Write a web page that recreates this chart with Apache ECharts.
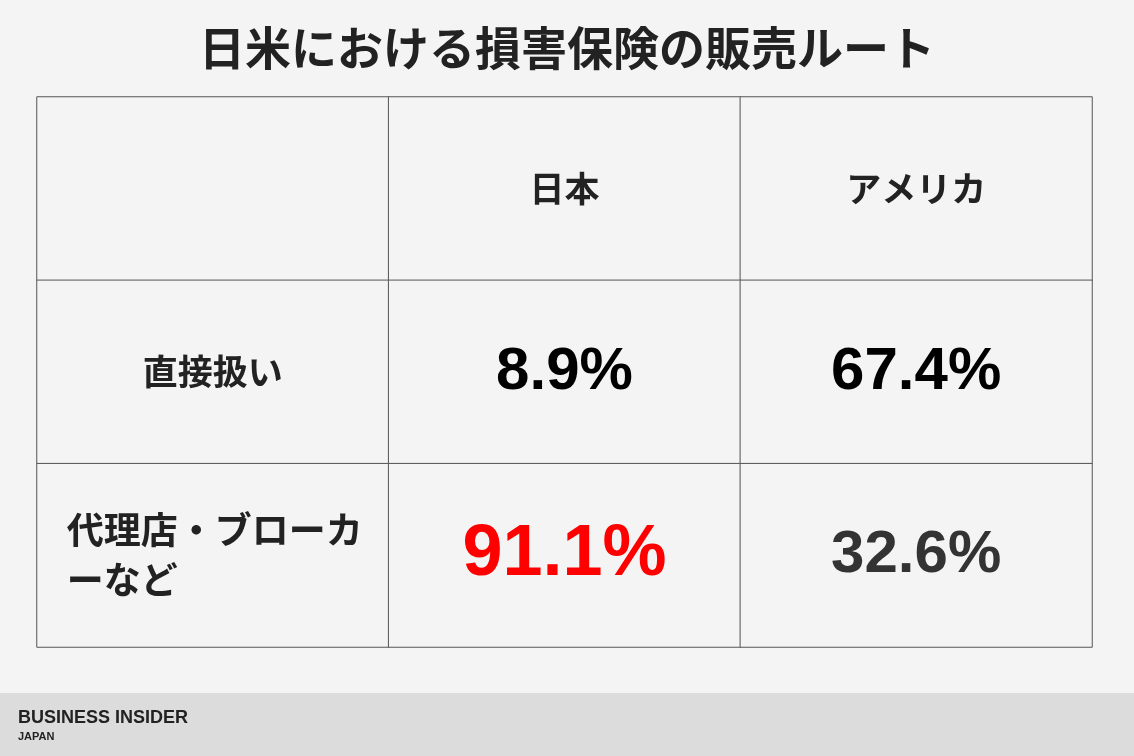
<!DOCTYPE html>
<html>
<head>
<meta charset="utf-8">
<script src="https://cdn.jsdelivr.net/npm/echarts@6/dist/echarts.min.js"></script>
<style>
  html, body { margin: 0; padding: 0; background: #f4f4f4; }
  #chart { width: 1134px; height: 756px; }
</style>
</head>
<body>
<div id="chart"></div>
<script>
// 表のデータ
var titleText = '日米における損害保険の販売ルート';
var columns = ['', '日本', 'アメリカ'];
var rows = ['', '直接扱い', '代理店・ブローカ\nーなど'];
var japanValues = [8.9, 91.1];
var usaValues = [67.4, 32.6];

var FONT = '"Noto Sans CJK JP", "Noto Sans", sans-serif';
var NUMFONT = 'Arial, "Liberation Sans", sans-serif';
var myChart = echarts.init(document.getElementById('chart'));

function cell(x, y, text, label) {
    return {
        value: [x, y, 0],
        label: Object.assign({ show: true, formatter: text, fontFamily: FONT, fontWeight: 'bold' }, label)
    };
}

var data = [];
// 見出し行
columns.forEach(function (c, i) {
    data.push(cell(i, 0, c, { fontSize: 35, color: '#222', letterSpacing: 6 }));
});
// 行見出し
rows.forEach(function (r, j) {
    if (j === 0) return;
    var lab = { fontSize: 35, color: '#222', lineHeight: 50, letterSpacing: 6 };
    if (j === 2) { lab.align = 'left'; lab.offset = [-146, 0]; lab.letterSpacing = 2; lab.fontSize = 37; }
    data.push(cell(0, j, r, lab));
});
// 数値
japanValues.forEach(function (v, j) {
    var red = j === 1;
    data.push(cell(1, j + 1, v.toFixed(1) + '%', {
        fontSize: red ? 72 : 60, color: red ? '#ff0000' : '#000', fontFamily: NUMFONT
    }));
});
usaValues.forEach(function (v, j) {
    data.push(cell(2, j + 1, v.toFixed(1) + '%', {
        fontSize: 60, color: j === 1 ? '#333' : '#000', fontFamily: NUMFONT
    }));
});

var option = {
    backgroundColor: '#f4f4f4',
    animation: false,
    title: {
        text: titleText,
        left: 'center',
        top: 20,
        textStyle: { fontFamily: FONT, fontSize: 46, fontWeight: 'bold', color: '#222', letterSpacing: 4 }
    },
    grid: { left: 37, top: 97, width: 1055, height: 550 },
    xAxis: { type: 'category', data: columns, show: false },
    yAxis: { type: 'category', data: rows, inverse: true, show: false },
    visualMap: { show: false, min: 0, max: 1, dimension: 2, inRange: { color: ['#f4f4f4', '#f4f4f4'] } },
    series: [{
        type: 'heatmap',
        data: data,
        itemStyle: { borderColor: '#555', borderWidth: 1, color: '#f4f4f4' },
        emphasis: { disabled: true }
    }],
    graphic: [
        { type: 'rect', left: 0, top: 693, shape: { width: 1134, height: 63 }, style: { fill: '#dcdcdc' } },
        { type: 'text', left: 18, top: 709, style: { text: 'BUSINESS INSIDER', font: 'bold 18px "Liberation Sans", Arial', fill: '#222', letterSpacing: 3 } },
        { type: 'text', left: 18, top: 731, style: { text: 'JAPAN', font: 'bold 11px "Liberation Sans", Arial', fill: '#222', letterSpacing: 2.5 } }
    ]
};

myChart.setOption(option);
</script>
</body>
</html>
